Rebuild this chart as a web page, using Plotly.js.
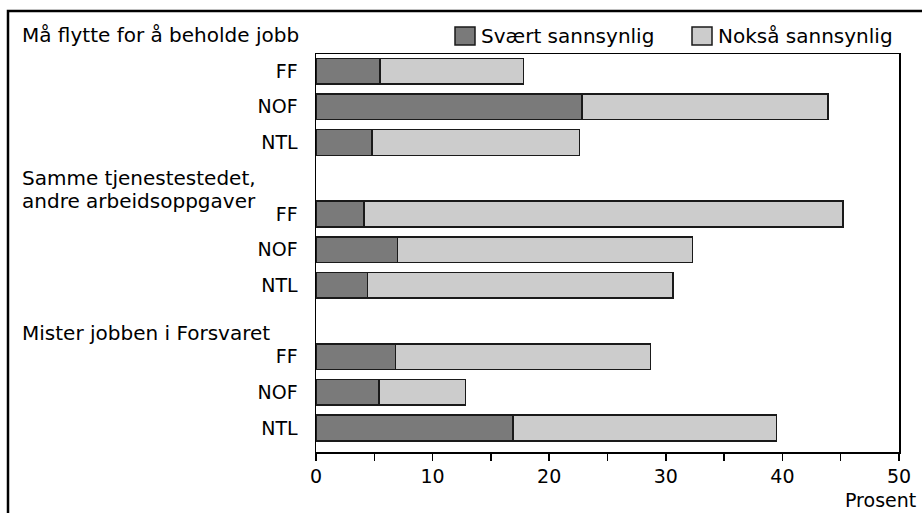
<!DOCTYPE html>
<html>
<head>
<meta charset="utf-8">
<script src="https://cdn.plot.ly/plotly-3.0.1.min.js"></script>
<style>
  html, body { margin: 0; padding: 0; background: #fff; }
  #chart { width: 922px; height: 513px; }
</style>
</head>
<body>
<div id="chart"></div>
<script>
// ---- Data ----
const groupLabels = ["Må flytte for å beholde jobb", "Samme tjenestestedet,<br>andre arbeidsoppgaver", "Mister jobben i Forsvaret"];
const unions = ["FF", "NOF", "NTL"];
const seriesNames = ["Svært sannsynlig", "Nokså sannsynlig"];
// values per group, in order FF, NOF, NTL
const svaertSannsynlig = [
  [5.5, 22.8, 4.8],
  [4.1, 7.0, 4.4],
  [6.8, 5.4, 16.9]
];
const noksaSannsynlig = [
  [12.3, 21.1, 17.8],
  [41.1, 25.3, 26.2],
  [21.9, 7.4, 22.6]
];
const xTicks = [0, 10, 20, 30, 40, 50];
const xAxisLabel = "Prosent";

// ---- Build slots: each group = 3 bars + 1 gap slot between groups ----
const slotPos = [], slotText = [], s1 = [], s2 = [], groupStart = [];
let slot = 0;
groupLabels.forEach((g, gi) => {
  groupStart.push(slot);
  unions.forEach((u, ui) => {
    slotPos.push(slot);
    slotText.push(u);
    s1.push(svaertSannsynlig[gi][ui]);
    s2.push(noksaSannsynlig[gi][ui]);
    slot++;
  });
  slot++; // gap
});

const colors = ["#7a7a7a", "#cccccc"];
const font = "DejaVu Sans, Open Sans, sans-serif";
const fs = 20;
const lineStyle = { color: "#1a1a1a", width: 1.5 };

const traces = [s1, s2].map((vals, i) => ({
  type: "bar",
  orientation: "h",
  name: seriesNames[i],
  x: vals,
  y: slotPos,
  width: 0.72,
  marker: { color: colors[i], line: lineStyle },
  showlegend: false,
  hoverinfo: "x+name"
}));

// Plot area geometry in pixels
const W = 922, H = 513;
const m = { l: 316, r: 23, t: 54, b: 61 };
const pw = W - m.l - m.r, ph = H - m.t - m.b;
const yRange = [10.67, -0.48];
const px2paperX = px => (px - m.l) / pw;
const py2paperY = py => (H - m.b - py) / ph;
const slot2paperY = s => (yRange[0] - s) / (yRange[0] - yRange[1]);

const annotations = [];
const shapes = [];

// group labels (multi-line labels split into lines)
const groupLabelOffset = [-1.0, -0.68, -0.66];
const lineGap = 23; // px between lines
groupLabels.forEach((g, gi) => {
  const lines = g.split("<br>");
  const yc = slot2paperY(groupStart[gi] + groupLabelOffset[gi]);
  lines.forEach((ln, li) => {
    const dy = (li - (lines.length - 1) / 2) * lineGap / ph;
    annotations.push({
      text: ln, xref: "paper", yref: "paper",
      x: px2paperX(20), y: yc - dy,
      xanchor: "left", yanchor: "middle", align: "left",
      showarrow: false, font: { family: font, size: fs, color: "#000" }
    });
  });
});

// manual legend
const legendBoxX = [455, 692];
seriesNames.forEach((n, i) => {
  shapes.push({
    type: "rect", xref: "paper", yref: "paper",
    x0: px2paperX(legendBoxX[i]), x1: px2paperX(legendBoxX[i] + 20),
    y0: py2paperY(45), y1: py2paperY(27),
    fillcolor: colors[i], line: lineStyle
  });
  annotations.push({
    text: n, xref: "paper", yref: "paper",
    x: px2paperX(legendBoxX[i] + 24), y: py2paperY(36),
    xanchor: "left", yanchor: "middle", showarrow: false,
    font: { family: font, size: fs, color: "#000" }
  });
});

// x-axis unit label
annotations.push({
  text: xAxisLabel, xref: "paper", yref: "paper",
  x: px2paperX(918), y: py2paperY(500),
  xanchor: "right", yanchor: "middle", showarrow: false,
  font: { family: font, size: 19, color: "#000" }
});

// outer frame (partially outside the visible window)
shapes.push({
  type: "rect", xref: "paper", yref: "paper",
  x0: px2paperX(8), x1: px2paperX(930),
  y0: py2paperY(530), y1: py2paperY(11),
  line: { color: "#000", width: 2.5 }, fillcolor: "rgba(0,0,0,0)"
});

const layout = {
  width: W, height: H,
  margin: m,
  paper_bgcolor: "#fff", plot_bgcolor: "#fff",
  barmode: "stack",
  bargap: 0,
  font: { family: font, size: fs, color: "#000" },
  xaxis: {
    range: [0, 50], tickvals: xTicks, ticks: "outside", ticklen: 7, tickwidth: 1.5,
    tickcolor: "#000", showgrid: false, zeroline: false,
    showline: true, linecolor: "#000", linewidth: 1.5, mirror: true,
    minor: { dtick: 5, ticks: "outside", ticklen: 7, tickwidth: 1.5, tickcolor: "#000", showgrid: false },
    tickfont: { family: font, size: 19 }, fixedrange: true
  },
  yaxis: {
    range: yRange, tickvals: slotPos, ticktext: slotText,
    ticks: "", ticklabelstandoff: 13, showgrid: false, zeroline: false,
    showline: true, linecolor: "#000", linewidth: 1.5, mirror: true,
    tickfont: { family: font, size: 19 }, fixedrange: true
  },
  annotations: annotations,
  shapes: shapes,
  showlegend: false
};

Plotly.newPlot("chart", traces, layout, { displayModeBar: false, staticPlot: true });
</script>
</body>
</html>
